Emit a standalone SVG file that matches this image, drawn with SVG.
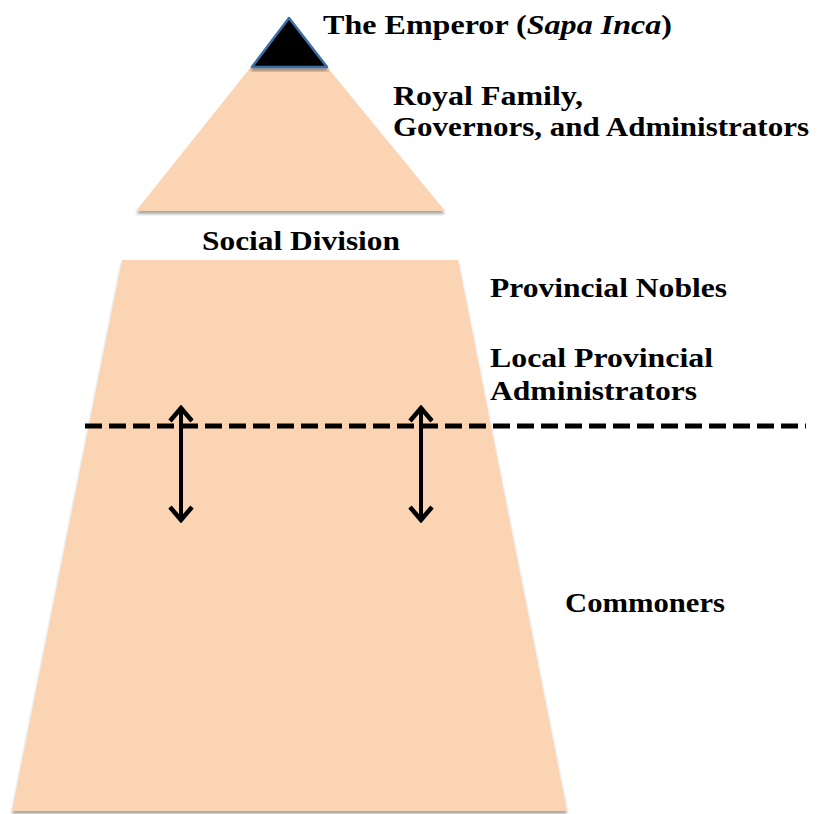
<svg xmlns="http://www.w3.org/2000/svg" width="826" height="814" viewBox="0 0 826 814">
<style>
.lbl{font-family:"Liberation Serif","Times New Roman",serif;font-weight:bold;font-size:28px;fill:#000}
.tier{fill:#FBD4B4}
.arrow{stroke:#000;stroke-width:4;fill:none}
</style>
<defs>
<filter id="sh" x="-10%" y="-10%" width="120%" height="120%">
<feDropShadow dx="0" dy="3" stdDeviation="1.8" flood-color="#000" flood-opacity="0.35"/>
</filter>
<marker id="head" viewBox="0 0 18 26" refX="15" refY="13" markerWidth="18" markerHeight="26" markerUnits="userSpaceOnUse" orient="auto-start-reverse">
<path d="M2,2 L15,13 L2,24" fill="none" stroke="#000" stroke-width="4.5" stroke-linejoin="miter"/>
</marker>
</defs>
<rect width="826" height="814" fill="#fff"/>
<g id="royal-tier">
<polygon class="tier" points="251,67 327,67 445,211 136,211" filter="url(#sh)"/>
</g>
<g id="emperor">
<polygon points="289,18 327,67 252,67" fill="#000" stroke="#3A6EA5" stroke-width="2.5" stroke-linejoin="round" filter="url(#sh)"/>
</g>
<g id="lower-tier">
<polygon class="tier" points="122,260 458,260 567,811 12,811" filter="url(#sh)"/>
</g>
<g id="connectors">
<line x1="85" y1="426" x2="806" y2="426" stroke="#000" stroke-width="5" stroke-dasharray="17 7"/>
<line class="arrow" x1="181" y1="408" x2="181" y2="520" marker-start="url(#head)" marker-end="url(#head)"/>
<line class="arrow" x1="421" y1="408" x2="421" y2="520" marker-start="url(#head)" marker-end="url(#head)"/>
</g>
<g id="labels">
<text class="lbl" x="323" y="34" textLength="349" lengthAdjust="spacingAndGlyphs">The Emperor (<tspan font-style="italic">Sapa Inca</tspan>)</text>
<text class="lbl" x="393" y="105" textLength="190" lengthAdjust="spacingAndGlyphs">Royal Family,</text>
<text class="lbl" x="393" y="136" textLength="416" lengthAdjust="spacingAndGlyphs">Governors, and Administrators</text>
<text class="lbl" x="202" y="250" textLength="198" lengthAdjust="spacingAndGlyphs">Social Division</text>
<text class="lbl" x="490" y="297" textLength="237" lengthAdjust="spacingAndGlyphs">Provincial Nobles</text>
<text class="lbl" x="490" y="367" textLength="223" lengthAdjust="spacingAndGlyphs">Local Provincial</text>
<text class="lbl" x="490" y="400" textLength="207" lengthAdjust="spacingAndGlyphs">Administrators</text>
<text class="lbl" x="565" y="612" textLength="160" lengthAdjust="spacingAndGlyphs">Commoners</text>
</g>
</svg>
